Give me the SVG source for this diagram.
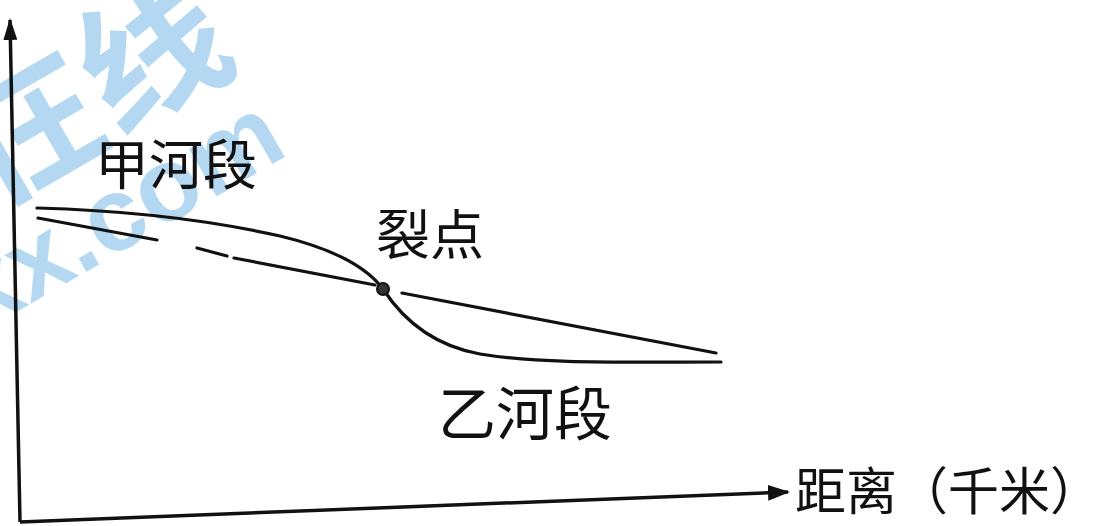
<svg xmlns="http://www.w3.org/2000/svg" width="1103" height="526" viewBox="0 0 1103 526">
<style>
.wm{font-weight:bold;fill:#b5d8f2}
.wmc{font-family:"Noto Sans CJK SC",sans-serif}
.wml{font-family:"Liberation Sans",sans-serif}
.lbl{font-family:"Noto Sans CJK SC",sans-serif;fill:#111}
.ln{fill:none;stroke:#111;stroke-width:3.2;stroke-linecap:round}
.ax{fill:none;stroke:#111;stroke-width:3.5}
</style>
<defs>
<marker id="ahx" markerWidth="22" markerHeight="16" refX="20" refY="8" orient="auto" markerUnits="userSpaceOnUse">
<path d="M0,0 L22,8 L0,16 Z" fill="#111"/>
</marker>
<marker id="ahy" markerWidth="22" markerHeight="14" refX="20" refY="7" orient="auto" markerUnits="userSpaceOnUse">
<path d="M0,0 L22,7 L0,14 Z" fill="#111"/>
</marker>
</defs>
<rect width="1103" height="526" fill="#fff"/>
<g id="watermark">
<text class="wm wmc" x="0" y="0" font-size="145" transform="translate(-10,208) rotate(-30)">在线</text>
<text class="wm wml" x="0" y="0" font-size="104" transform="translate(-20,333) rotate(-30)">xx.com</text>
</g>
<g id="axes">
<path class="ax" d="M20,522 L10,20" marker-end="url(#ahy)"/>
<path class="ax" d="M20,522 L788,492" marker-end="url(#ahx)"/>
</g>
<g id="connectors">
<path id="profile-solid" class="ln" d="M37,208 C110,210 200,218 280,236 C330,248 365,265 383,289 C400,315 430,345 480,354 C540,364 620,362 721,362"/>
<path id="profile-dashed-left" class="ln" d="M38,218 L157,240 M197,248 L227,256 M234,258 L375,285"/>
<path id="profile-right" class="ln" d="M402,293 L716,353"/>
</g>
<g id="knickpoint">
<circle cx="383" cy="289" r="6" fill="#333" stroke="#111" stroke-width="2"/>
</g>
<g id="label-jia">
<text class="lbl" x="95" y="185" font-size="54">甲河段</text>
</g>
<g id="label-liedian">
<text class="lbl" x="376" y="255" font-size="54">裂点</text>
</g>
<g id="label-yi">
<text class="lbl" x="438" y="435" font-size="58">乙河段</text>
</g>
<g id="label-x">
<text class="lbl" x="795" y="510" font-size="51">距离（千米）</text>
</g>
</svg>
